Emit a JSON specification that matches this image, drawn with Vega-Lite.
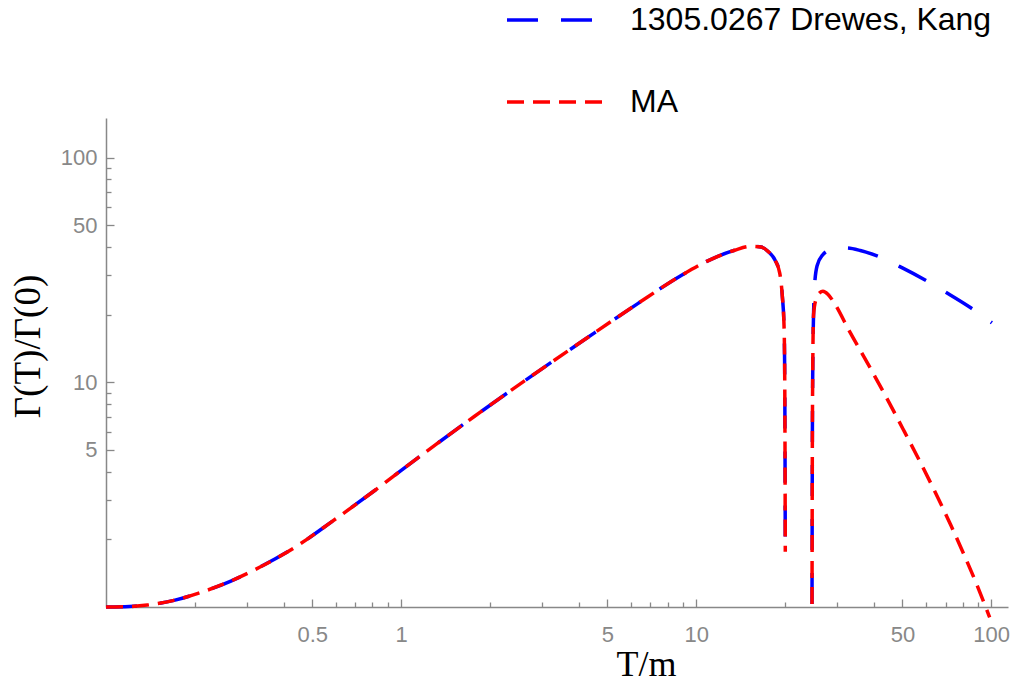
{
  "$schema": "https://vega.github.io/schema/vega-lite/v6.json",
  "width": 902,
  "height": 489,
  "autosize": "none",
  "padding": {"left": 106, "top": 118, "right": 9, "bottom": 80},
  "background": "white",
  "data": {"values": [
    {"series": "1305.0267 Drewes, Kang", "branch": "a", "T": 0.1, "G": 1.0},
    {"series": "1305.0267 Drewes, Kang", "branch": "a", "T": 0.12, "G": 1.005},
    {"series": "1305.0267 Drewes, Kang", "branch": "a", "T": 0.138, "G": 1.02},
    {"series": "1305.0267 Drewes, Kang", "branch": "a", "T": 0.17, "G": 1.07},
    {"series": "1305.0267 Drewes, Kang", "branch": "a", "T": 0.205, "G": 1.15},
    {"series": "1305.0267 Drewes, Kang", "branch": "a", "T": 0.265, "G": 1.305},
    {"series": "1305.0267 Drewes, Kang", "branch": "a", "T": 0.334, "G": 1.51},
    {"series": "1305.0267 Drewes, Kang", "branch": "a", "T": 0.447, "G": 1.88},
    {"series": "1305.0267 Drewes, Kang", "branch": "a", "T": 0.578, "G": 2.38},
    {"series": "1305.0267 Drewes, Kang", "branch": "a", "T": 0.814, "G": 3.3},
    {"series": "1305.0267 Drewes, Kang", "branch": "a", "T": 1.14, "G": 4.61},
    {"series": "1305.0267 Drewes, Kang", "branch": "a", "T": 1.77, "G": 7.04},
    {"series": "1305.0267 Drewes, Kang", "branch": "a", "T": 2.75, "G": 10.6},
    {"series": "1305.0267 Drewes, Kang", "branch": "a", "T": 4.19, "G": 15.5},
    {"series": "1305.0267 Drewes, Kang", "branch": "a", "T": 6.34, "G": 22.4},
    {"series": "1305.0267 Drewes, Kang", "branch": "a", "T": 8.87, "G": 29.8},
    {"series": "1305.0267 Drewes, Kang", "branch": "a", "T": 11.0, "G": 34.8},
    {"series": "1305.0267 Drewes, Kang", "branch": "a", "T": 13.5, "G": 38.7},
    {"series": "1305.0267 Drewes, Kang", "branch": "a", "T": 15.4, "G": 40.3},
    {"series": "1305.0267 Drewes, Kang", "branch": "a", "T": 16.6, "G": 40.0},
    {"series": "1305.0267 Drewes, Kang", "branch": "a", "T": 17.5, "G": 38.3},
    {"series": "1305.0267 Drewes, Kang", "branch": "a", "T": 18.5, "G": 35.0},
    {"series": "1305.0267 Drewes, Kang", "branch": "a", "T": 19.2, "G": 30.6},
    {"series": "1305.0267 Drewes, Kang", "branch": "a", "T": 19.6, "G": 24.0},
    {"series": "1305.0267 Drewes, Kang", "branch": "a", "T": 19.85, "G": 18.0},
    {"series": "1305.0267 Drewes, Kang", "branch": "a", "T": 19.95, "G": 12.0},
    {"series": "1305.0267 Drewes, Kang", "branch": "a", "T": 20.0, "G": 6.0},
    {"series": "1305.0267 Drewes, Kang", "branch": "a", "T": 20.03, "G": 3.0},
    {"series": "1305.0267 Drewes, Kang", "branch": "a", "T": 20.05, "G": 1.76},
    {"series": "1305.0267 Drewes, Kang", "branch": "b", "T": 24.7, "G": 1.03},
    {"series": "1305.0267 Drewes, Kang", "branch": "b", "T": 24.75, "G": 4},
    {"series": "1305.0267 Drewes, Kang", "branch": "b", "T": 24.85, "G": 12},
    {"series": "1305.0267 Drewes, Kang", "branch": "b", "T": 25.0, "G": 20},
    {"series": "1305.0267 Drewes, Kang", "branch": "b", "T": 25.2, "G": 27},
    {"series": "1305.0267 Drewes, Kang", "branch": "b", "T": 25.7, "G": 33},
    {"series": "1305.0267 Drewes, Kang", "branch": "b", "T": 26.9, "G": 37.0},
    {"series": "1305.0267 Drewes, Kang", "branch": "b", "T": 28.5, "G": 38.8},
    {"series": "1305.0267 Drewes, Kang", "branch": "b", "T": 32.2, "G": 39.6},
    {"series": "1305.0267 Drewes, Kang", "branch": "b", "T": 36, "G": 38.6},
    {"series": "1305.0267 Drewes, Kang", "branch": "b", "T": 40.8, "G": 36.6},
    {"series": "1305.0267 Drewes, Kang", "branch": "b", "T": 50, "G": 32.3},
    {"series": "1305.0267 Drewes, Kang", "branch": "b", "T": 59.5, "G": 28.6},
    {"series": "1305.0267 Drewes, Kang", "branch": "b", "T": 70, "G": 25.2},
    {"series": "1305.0267 Drewes, Kang", "branch": "b", "T": 85.5, "G": 21.4},
    {"series": "1305.0267 Drewes, Kang", "branch": "b", "T": 100.5, "G": 18.4},
    {"series": "MA", "branch": "a", "T": 0.1, "G": 1.0},
    {"series": "MA", "branch": "a", "T": 0.12, "G": 1.005},
    {"series": "MA", "branch": "a", "T": 0.138, "G": 1.02},
    {"series": "MA", "branch": "a", "T": 0.17, "G": 1.07},
    {"series": "MA", "branch": "a", "T": 0.205, "G": 1.15},
    {"series": "MA", "branch": "a", "T": 0.265, "G": 1.305},
    {"series": "MA", "branch": "a", "T": 0.334, "G": 1.51},
    {"series": "MA", "branch": "a", "T": 0.447, "G": 1.88},
    {"series": "MA", "branch": "a", "T": 0.578, "G": 2.38},
    {"series": "MA", "branch": "a", "T": 0.814, "G": 3.3},
    {"series": "MA", "branch": "a", "T": 1.14, "G": 4.61},
    {"series": "MA", "branch": "a", "T": 1.77, "G": 7.04},
    {"series": "MA", "branch": "a", "T": 2.75, "G": 10.6},
    {"series": "MA", "branch": "a", "T": 4.19, "G": 15.5},
    {"series": "MA", "branch": "a", "T": 6.34, "G": 22.4},
    {"series": "MA", "branch": "a", "T": 8.87, "G": 29.8},
    {"series": "MA", "branch": "a", "T": 11.0, "G": 34.8},
    {"series": "MA", "branch": "a", "T": 13.5, "G": 38.7},
    {"series": "MA", "branch": "a", "T": 15.4, "G": 40.3},
    {"series": "MA", "branch": "a", "T": 16.6, "G": 40.0},
    {"series": "MA", "branch": "a", "T": 17.5, "G": 38.3},
    {"series": "MA", "branch": "a", "T": 18.5, "G": 35.0},
    {"series": "MA", "branch": "a", "T": 19.2, "G": 30.6},
    {"series": "MA", "branch": "a", "T": 19.6, "G": 24.0},
    {"series": "MA", "branch": "a", "T": 19.85, "G": 18.0},
    {"series": "MA", "branch": "a", "T": 19.95, "G": 12.0},
    {"series": "MA", "branch": "a", "T": 20.0, "G": 6.0},
    {"series": "MA", "branch": "a", "T": 20.03, "G": 3.0},
    {"series": "MA", "branch": "a", "T": 20.05, "G": 1.76},
    {"series": "MA", "branch": "b", "T": 24.7, "G": 1.03},
    {"series": "MA", "branch": "b", "T": 24.75, "G": 4},
    {"series": "MA", "branch": "b", "T": 24.85, "G": 12},
    {"series": "MA", "branch": "b", "T": 25.0, "G": 20},
    {"series": "MA", "branch": "b", "T": 25.5, "G": 23.5},
    {"series": "MA", "branch": "b", "T": 26.2, "G": 25.0},
    {"series": "MA", "branch": "b", "T": 26.9, "G": 25.4},
    {"series": "MA", "branch": "b", "T": 28.0, "G": 24.6},
    {"series": "MA", "branch": "b", "T": 29.4, "G": 22.5},
    {"series": "MA", "branch": "b", "T": 33, "G": 16.97},
    {"series": "MA", "branch": "b", "T": 39.2, "G": 11.37},
    {"series": "MA", "branch": "b", "T": 45, "G": 8.16},
    {"series": "MA", "branch": "b", "T": 50.8, "G": 6.03},
    {"series": "MA", "branch": "b", "T": 58, "G": 4.31},
    {"series": "MA", "branch": "b", "T": 65.9, "G": 3.07},
    {"series": "MA", "branch": "b", "T": 73, "G": 2.31},
    {"series": "MA", "branch": "b", "T": 81.2, "G": 1.69},
    {"series": "MA", "branch": "b", "T": 90, "G": 1.23},
    {"series": "MA", "branch": "b", "T": 98.8, "G": 0.9}
  ]},
  "mark": {"type": "line", "strokeWidth": 3.5, "interpolate": "monotone", "clip": false},
  "encoding": {
    "x": {
      "field": "T", "type": "quantitative",
      "scale": {"type": "log", "domain": [0.1, 114], "nice": false, "zero": false},
      "axis": {
        "values": [0.2, 0.3, 0.4, 0.5, 0.6, 0.7, 0.8, 0.9, 1, 2, 3, 4, 5, 6, 7, 8, 9, 10, 20, 30, 40, 50, 60, 70, 80, 90, 100],
        "labelExpr": "indexof([0.5, 1, 5, 10, 50, 100], datum.value) >= 0 ? format(datum.value, '~g') : ''",
        "tickSize": {"condition": {"test": "indexof([0.5, 1, 5, 10, 50, 100], datum.value) >= 0", "value": -8}, "value": -5},
        "labelPadding": 25,
        "labelFlush": false,
        "labelOverlap": false,
        "title": "T/m",
        "titleX": 540,
        "titleY": 68,
        "titleAlign": "center",
        "titleBaseline": "alphabetic",
        "titleFont": "Liberation Serif",
        "titleFontSize": 36
      }
    },
    "y": {
      "field": "G", "type": "quantitative",
      "scale": {"type": "log", "domain": [1, 150], "nice": false, "zero": false},
      "axis": {
        "values": [2, 3, 4, 5, 6, 7, 8, 9, 10, 20, 30, 40, 50, 60, 70, 80, 90, 100],
        "labelExpr": "indexof([5, 10, 50, 100], datum.value) >= 0 ? format(datum.value, '~g') : ''",
        "tickSize": {"condition": {"test": "indexof([5, 10, 50, 100], datum.value) >= 0", "value": -8}, "value": -5},
        "labelPadding": 17,
        "labelFlush": false,
        "labelOverlap": false,
        "title": "Γ(T)/Γ(0)",
        "titleX": -78,
        "titleY": 228,
        "titleAngle": -90,
        "titleAlign": "center",
        "titleBaseline": "middle",
        "titleFont": "Liberation Serif",
        "titleFontSize": 37
      }
    },
    "color": {
      "field": "series", "type": "nominal",
      "scale": {"domain": ["1305.0267 Drewes, Kang", "MA"], "range": ["#0000ff", "#ff0000"]}
    },
    "strokeDash": {
      "field": "series", "type": "nominal",
      "scale": {"domain": ["1305.0267 Drewes, Kang", "MA"], "range": [[31, 23], [17, 9]]}
    },
    "detail": {"field": "branch", "type": "nominal"}
  },
  "config": {
    "view": {"stroke": null},
    "axis": {
      "grid": false,
      "domainColor": "#888888",
      "domainWidth": 1.5,
      "tickColor": "#888888",
      "tickWidth": 1.3,
      "labelColor": "#888888",
      "labelFont": "Liberation Sans",
      "labelFontSize": 22,
      "titleColor": "#000000",
      "titleFontWeight": "normal"
    },
    "legend": {
      "orient": "none",
      "legendX": 399,
      "legendY": -150,
      "title": null,
      "symbolType": "stroke",
      "symbolSize": 10000,
      "symbolStrokeWidth": 3.5,
      "labelFont": "Liberation Sans",
      "labelFontSize": 32,
      "labelColor": "#000000",
      "labelOffset": 21,
      "labelLimit": 600,
      "rowPadding": 14
    }
  }
}
